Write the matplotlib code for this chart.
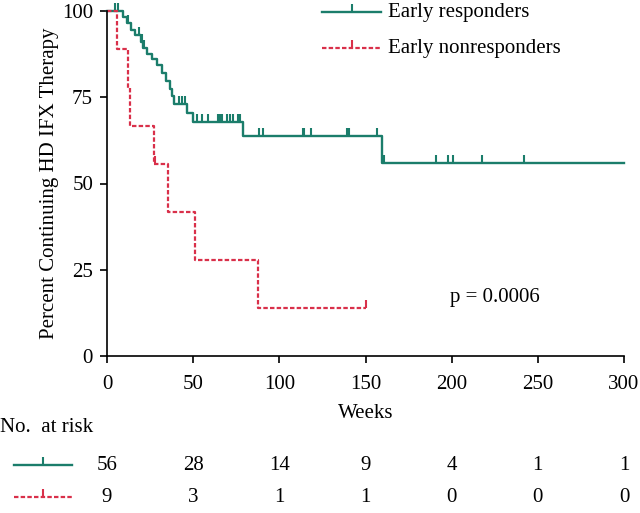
import numpy as np
import matplotlib
matplotlib.use('Agg')
import matplotlib.pyplot as plt
from matplotlib.lines import Line2D
from matplotlib.path import Path

plt.rcParams['font.family'] = ['Liberation Serif', 'DejaVu Serif']

# Kaplan-Meier curves (weeks, percent after each drop)
resp_times = [9.5, 11.5, 14, 16, 19.5, 21, 23, 26, 28.8, 31.7, 34.2, 36.5, 37.8, 38.9, 46.2, 50.1, 79, 159.5]
resp_levels = [98.2, 96.4, 94.6, 92.9, 91.1, 89.3, 87.5, 86.0, 84.3, 82.1, 79.7, 77.3, 75.3, 72.9, 70.5, 67.8, 63.9, 56.0]
resp_censor = [4.6, 6.4, 12.4, 18.6, 20.2, 21.6, 42, 43.7, 45.4, 52, 55, 58.8, 64.6, 65.5, 66.5, 69.4,
               71.4, 73.3, 76.2, 77.2, 88.4, 90.7, 113.6, 114.3, 118.4, 139.5, 140.6, 156.9, 160.5,
               190.7, 197.7, 201, 217.6, 242]
resp_end = 300

nonresp_times = [6, 12.4, 13.5, 27.5, 35.6, 51.1, 87.8]
nonresp_levels = [88.9, 77.8, 66.7, 55.6, 41.7, 27.8, 13.9]
nonresp_censor = [28, 150]
nonresp_end = 150

risk_weeks = [0, 50, 100, 150, 200, 250, 300]
risk_resp = [56, 28, 14, 9, 4, 1, 1]
risk_nonresp = [9, 3, 1, 1, 0, 0, 0]

labels = ['Early responders', 'Early nonresponders']
p_text = 'p = 0.0006'

green = '#1b7d6b'
red = '#d9304a'
red_dash = (0, (2.0, 1.0))
fs = 15

# upward tick used for censored observations
tick = Path([(0, 0), (0, 1)], [Path.MOVETO, Path.LINETO])


def level_at(times, levels, t):
    i = np.searchsorted(times, t, side='right')
    return ([100] + list(levels))[i]


def draw_curve(ax, times, levels, censor, end, color, ls, lw):
    x = [0] + list(times) + [end]
    y = [100] + list(levels) + [levels[-1]]
    ax.step(x, y, where='post', color=color, linestyle=ls, lw=lw, clip_on=False)
    cy = [level_at(times, levels, c) for c in censor]
    ax.plot(censor, cy, linestyle='none', marker=tick, markersize=11,
            markeredgewidth=1.5, color=color, clip_on=False)


def sample(fig, x0, x1, y, color, ls, lw):
    W, H = fig.get_size_inches() * fig.dpi
    fig.add_artist(Line2D([x0 / W, x1 / W], [1 - y / H, 1 - y / H], color=color, ls=ls, lw=lw))
    fig.add_artist(Line2D([(x0 + x1) / 2 / W], [1 - y / H], marker=tick, markersize=11,
                          markeredgewidth=1.5, color=color, ls='none'))


fig = plt.figure(figsize=(6.4, 5.13), dpi=100)
ax = fig.add_axes([107 / 640, 1 - 356 / 513, 517 / 640, 345 / 513])

draw_curve(ax, resp_times, resp_levels, resp_censor, resp_end, green, '-', 1.7)
draw_curve(ax, nonresp_times, nonresp_levels, nonresp_censor, nonresp_end, red, red_dash, 1.6)

ax.set_xlim(0, 300)
ax.set_ylim(0, 100)
ax.set_xticks(risk_weeks)
ax.set_yticks([0, 25, 50, 75, 100])
ax.spines['top'].set_visible(False)
ax.spines['right'].set_visible(False)
for s in ['left', 'bottom']:
    ax.spines[s].set_linewidth(1.2)
ax.tick_params(direction='out', length=5, width=1.2, labelsize=fs)
ax.tick_params(axis='x', pad=9)
ax.tick_params(axis='y', pad=5)
ax.set_xlabel('Weeks', fontsize=fs, labelpad=7)
ax.set_ylabel('Percent Continuing HD IFX Therapy', fontsize=fs, labelpad=2)

ax.text(225, 17, p_text, fontsize=fs, ha='center', va='center')

# legend drawn by hand
sample(fig, 322, 381, 12, green, '-', 1.7)
sample(fig, 322, 381, 48, red, red_dash, 1.6)
fig.text(388 / 640, 1 - 12 / 513, labels[0], fontsize=fs, va='center')
fig.text(388 / 640, 1 - 48 / 513, labels[1], fontsize=fs, va='center')

# number at risk table
fig.text(0.0, 1 - 428 / 513, 'No.  at risk', fontsize=fs, va='center')
sample(fig, 14, 72, 465, green, '-', 1.7)
sample(fig, 14, 72, 497, red, red_dash, 1.6)
trans = matplotlib.transforms.blended_transform_factory(ax.transData, fig.transFigure)
for w, a, b in zip(risk_weeks, risk_resp, risk_nonresp):
    fig.text(w, 1 - 465 / 513, str(a), fontsize=fs, ha='center', va='center', transform=trans)
    fig.text(w, 1 - 497 / 513, str(b), fontsize=fs, ha='center', va='center', transform=trans)

fig.savefig('out.png', dpi=100)
